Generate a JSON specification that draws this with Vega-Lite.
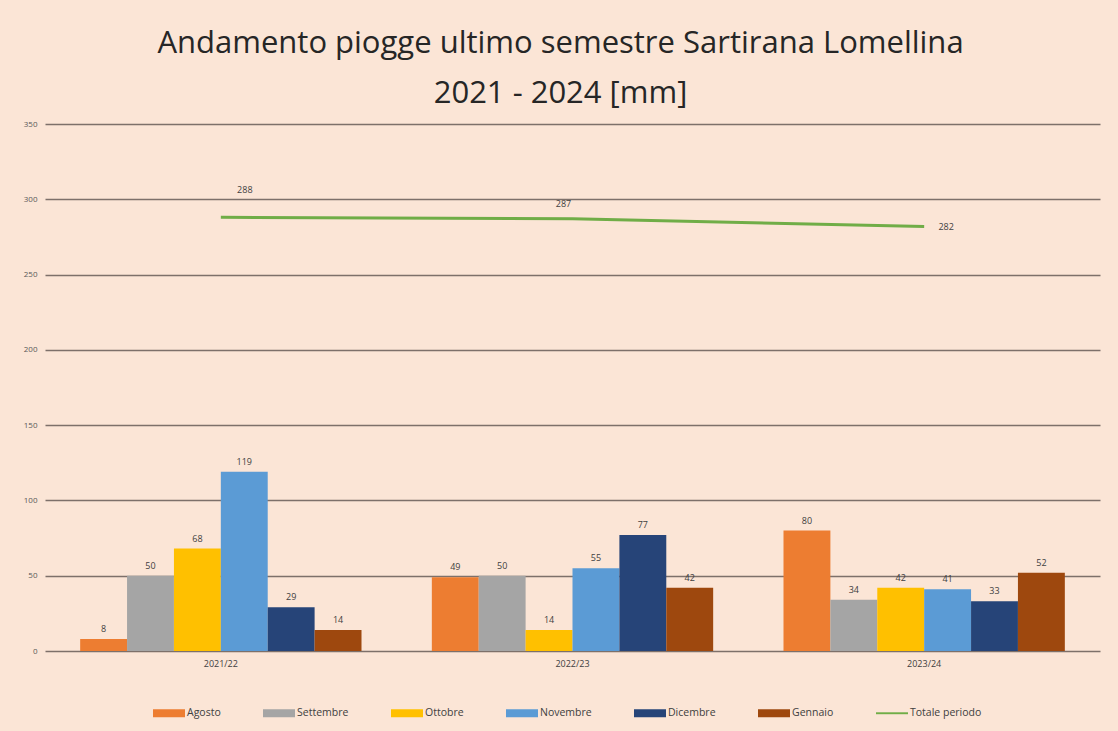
{
  "$schema": "https://vega.github.io/schema/vega-lite/v6.json",
  "width": 1055,
  "height": 527,
  "autosize": {"type": "none"},
  "padding": {"left": 45, "top": 124, "right": 18, "bottom": 80},
  "background": "#FBE5D6",
  "config": {
    "view": {"stroke": null},
    "font": "Open Sans"
  },
  "title": {
    "text": ["Andamento piogge ultimo semestre Sartirana Lomellina", "2021 - 2024 [mm]"],
    "fontSize": 31,
    "fontWeight": "normal",
    "color": "#262626",
    "lineHeight": 50,
    "anchor": "middle",
    "dx": -12,
    "offset": 10,
    "font": "Open Sans"
  },
  "datasets": {
    "mesi": [
      {"anno": "2021/22", "mese": "Agosto", "mm": 8},
      {"anno": "2021/22", "mese": "Settembre", "mm": 50},
      {"anno": "2021/22", "mese": "Ottobre", "mm": 68},
      {"anno": "2021/22", "mese": "Novembre", "mm": 119},
      {"anno": "2021/22", "mese": "Dicembre", "mm": 29},
      {"anno": "2021/22", "mese": "Gennaio", "mm": 14},
      {"anno": "2022/23", "mese": "Agosto", "mm": 49},
      {"anno": "2022/23", "mese": "Settembre", "mm": 50},
      {"anno": "2022/23", "mese": "Ottobre", "mm": 14},
      {"anno": "2022/23", "mese": "Novembre", "mm": 55},
      {"anno": "2022/23", "mese": "Dicembre", "mm": 77},
      {"anno": "2022/23", "mese": "Gennaio", "mm": 42},
      {"anno": "2023/24", "mese": "Agosto", "mm": 80},
      {"anno": "2023/24", "mese": "Settembre", "mm": 34},
      {"anno": "2023/24", "mese": "Ottobre", "mm": 42},
      {"anno": "2023/24", "mese": "Novembre", "mm": 41},
      {"anno": "2023/24", "mese": "Dicembre", "mm": 33},
      {"anno": "2023/24", "mese": "Gennaio", "mm": 52}
    ],
    "totali": [
      {"anno": "2021/22", "mese": "Totale periodo", "mm": 288},
      {"anno": "2022/23", "mese": "Totale periodo", "mm": 287},
      {"anno": "2023/24", "mese": "Totale periodo", "mm": 282}
    ]
  },
  "encoding": {
    "x": {
      "field": "anno",
      "type": "nominal",
      "sort": ["2021/22", "2022/23", "2023/24"],
      "scale": {"paddingInner": 0.2, "paddingOuter": 0.1},
      "axis": {
        "title": null,
        "labelAngle": 0,
        "domain": false,
        "ticks": false,
        "labelFontSize": 9,
        "labelColor": "#404040",
        "labelPadding": 8
      }
    },
    "y": {
      "field": "mm",
      "type": "quantitative",
      "scale": {"domain": [0, 350]},
      "axis": {
        "title": null,
        "values": [0, 50, 100, 150, 200, 250, 300, 350],
        "domain": false,
        "ticks": false,
        "labelFontSize": 8,
        "labelColor": "#595959",
        "labelPadding": 8,
        "gridColor": "#7d706a",
        "gridWidth": 1.3
      }
    }
  },
  "layer": [
    {
      "data": {"name": "mesi"},
      "mark": {"type": "bar"},
      "encoding": {
        "xOffset": {
          "field": "mese",
          "type": "nominal",
          "sort": ["Agosto", "Settembre", "Ottobre", "Novembre", "Dicembre", "Gennaio"],
          "scale": {"paddingInner": 0, "paddingOuter": 0}
        },
        "color": {
          "field": "mese",
          "type": "nominal",
          "scale": {
            "domain": ["Agosto", "Settembre", "Ottobre", "Novembre", "Dicembre", "Gennaio", "Totale periodo"],
            "range": ["#ED7D31", "#A5A5A5", "#FFC000", "#5B9BD5", "#264478", "#9E480E", "#70AD47"]
          },
          "legend": {
            "title": null,
            "orient": "none",
            "legendX": 108,
            "legendY": 573,
            "direction": "horizontal",
            "labelFontSize": 10.5,
            "labelColor": "#404040",
            "columnPadding": 42,
            "labelOffset": 2,
            "symbolSize": 1024,
            "symbolStrokeWidth": 0,
            "symbolType": "M-1,-0.25H1V0.25H-1Z",
            "encode": {
              "symbols": {
                "update": {
                  "shape": {"signal": "datum.value === 'Totale periodo' ? 'M-1,-0.06H1V0.06H-1Z' : 'M-1,-0.25H1V0.25H-1Z'"}
                }
              }
            }
          }
        }
      }
    },
    {
      "data": {"name": "mesi"},
      "mark": {"type": "text", "dy": -10, "fontSize": 9, "color": "#404040"},
      "encoding": {
        "xOffset": {
          "field": "mese",
          "type": "nominal",
          "sort": ["Agosto", "Settembre", "Ottobre", "Novembre", "Dicembre", "Gennaio"]
        },
        "text": {"field": "mm", "type": "quantitative"}
      }
    },
    {
      "data": {"name": "totali"},
      "mark": {"type": "line", "strokeWidth": 3},
      "encoding": {
        "color": {"field": "mese", "type": "nominal"}
      }
    },
    {
      "data": {"name": "totali"},
      "transform": [{"filter": "datum.anno === '2021/22'"}],
      "mark": {"type": "text", "dx": 24, "dy": -27, "fontSize": 9, "color": "#404040"},
      "encoding": {"text": {"field": "mm", "type": "quantitative"}}
    },
    {
      "data": {"name": "totali"},
      "transform": [{"filter": "datum.anno === '2022/23'"}],
      "mark": {"type": "text", "dx": -9, "dy": -15, "fontSize": 9, "color": "#404040"},
      "encoding": {"text": {"field": "mm", "type": "quantitative"}}
    },
    {
      "data": {"name": "totali"},
      "transform": [{"filter": "datum.anno === '2023/24'"}],
      "mark": {"type": "text", "dx": 22, "dy": 1, "fontSize": 9, "color": "#404040"},
      "encoding": {"text": {"field": "mm", "type": "quantitative"}}
    }
  ]
}
